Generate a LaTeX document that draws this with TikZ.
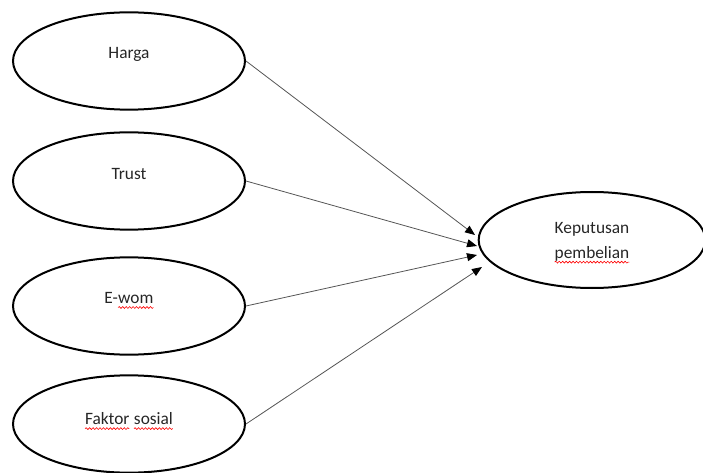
\documentclass[tikz,border=0pt]{standalone}
\usepackage{fontspec}
\setmainfont{Carlito}
\usetikzlibrary{arrows.meta,shapes.geometric,decorations.pathmorphing}
\definecolor{ink}{HTML}{262626}
\definecolor{wire}{HTML}{555555}
\tikzset{
  oval/.style={draw, ellipse, line width=1.5pt, minimum width=174pt, minimum height=73pt, inner sep=0pt},
  goal/.style={oval, minimum width=170pt, minimum height=72pt},
  txt/.style={font=\fontsize{13}{19}\selectfont, text=ink, align=center, inner sep=0pt},
  squig/.style={draw=red, line width=0.45pt, decorate, decoration={snake, amplitude=0.7pt, segment length=2.6pt}},
  flow/.style={-{Triangle[length=7.5pt,width=6pt,black]}, draw=wire, line width=0.6pt},
}
\newcommand{\spell}[1]{\tikz[baseline=(w.base)]{\node[inner sep=0pt, outer sep=0pt] (w) {#1};
  \draw[squig] ([yshift=-2.8pt]w.base west) -- ([yshift=-2.8pt]w.base east);}}

\begin{document}
\begin{tikzpicture}[x=0.75pt, y=0.75pt]
    \useasboundingbox (0,0) rectangle (703,472);
    % predictors on the left
    \node[oval] (harga) at (129,411) {};
    \node[oval] (trust) at (129,291) {};
    \node[oval] (ewom) at (129,166) {};
    \node[oval] (faktor) at (129,48) {};
    \node[txt] (hargaT) at ([yshift=5]harga.center) {Harga};
    \node[txt] (trustT) at ([yshift=5]trust.center) {Trust};
    \node[txt] (ewomT) at ([yshift=4]ewom.center) {E-\spell{wom}};
    \node[txt] (faktorT) at ([yshift=2]faktor.center) {\spell{Faktor} \spell{sosial}};

    % outcome on the right
    \node[goal] (kp) at (592,232) {};
    \node[txt] (kpT) at ([yshift=-2]kp.center) {Keputusan\\\spell{pembelian}};

    \coordinate (in1) at (475,237);
    \coordinate (in2) at (477,226);
    \coordinate (in3) at (477,217);
    \coordinate (in4) at (482,205);

    \draw[flow] (harga.east) -- (in1);
    \draw[flow] (trust.east) -- (in2);
    \draw[flow] (ewom.east) -- (in3);
    \draw[flow] (faktor.east) -- (in4);
  \end{tikzpicture}
\end{document}
